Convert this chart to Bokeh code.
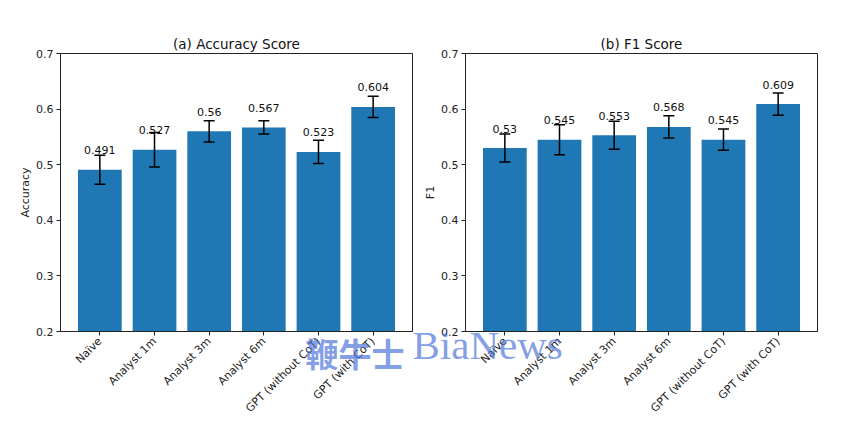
import math
from bokeh.plotting import figure
from bokeh.layouts import row
from bokeh.models import (ColumnDataSource, Range1d, FixedTicker, Whisker, TeeHead)
from bokeh.core.properties import value
from bokeh.embed import file_html
from bokeh.resources import INLINE

categories = ["Naïve", "Analyst 1m", "Analyst 3m", "Analyst 6m", "GPT (without CoT)", "GPT (with CoT)"]
accuracy = [0.491, 0.527, 0.560, 0.567, 0.523, 0.604]
accuracy_err = [0.026, 0.031, 0.019, 0.012, 0.021, 0.019]
f1 = [0.530, 0.545, 0.553, 0.568, 0.545, 0.609]
f1_err = [0.025, 0.027, 0.025, 0.020, 0.019, 0.020]
value_labels_acc = ["0.491", "0.527", "0.56", "0.567", "0.523", "0.604"]
value_labels_f1 = ["0.53", "0.545", "0.553", "0.568", "0.545", "0.609"]
y_ticks = [0.2, 0.3, 0.4, 0.5, 0.6, 0.7]
watermark_cjk = "鞭牛士"
watermark_latin = "BiaNews"

FONT = "DejaVu Sans"
BAR = "#1f77b4"


def panel(title, ylabel, values, errs, labels, width, border_left, border_right):
    x = list(range(len(categories)))
    src = ColumnDataSource(dict(
        x=x, top=values,
        upper=[v + e for v, e in zip(values, errs)],
        lower=[v - e for v, e in zip(values, errs)],
        ty=[v + 0.035 for v in values],
        txt=labels,
    ))
    p = figure(width=width, height=433, output_backend="svg", toolbar_location=None,
               x_range=Range1d(-0.72, 5.72), y_range=Range1d(0.2, 0.7),
               min_border_left=border_left, min_border_right=border_right,
               min_border_top=53, min_border_bottom=102)
    p.title.text = title
    p.title.align = "center"
    p.title.text_font = FONT
    p.title.text_font_size = "13.5px"
    p.title.text_font_style = "normal"
    p.title.text_color = "#111"
    p.title.standoff = 4
    p.grid.visible = False
    p.outline_line_color = "#222"
    p.outline_line_width = 1
    p.outline_line_alpha = 1

    p.vbar(x="x", top="top", bottom=0.2, width=0.8, source=src, color=BAR, line_color=None)
    w = Whisker(source=src, base="x", upper="upper", lower="lower", line_color="black", line_width=1.5,
                level="annotation",
                upper_head=TeeHead(size=11, line_color="black", line_width=1.5),
                lower_head=TeeHead(size=11, line_color="black", line_width=1.5))
    p.add_layout(w)
    p.text(x="x", y="ty", text="txt", source=src, text_align="center", text_baseline="alphabetic",
           text_font_size="11px", text_color="#111", text_font=value(FONT))

    for ax in (p.xaxis[0], p.yaxis[0]):
        ax.axis_line_color = "#222"
        ax.major_tick_line_color = "#222"
        ax.major_tick_in = 0
        ax.major_tick_out = 4
        ax.minor_tick_line_color = None
        ax.major_label_text_font = FONT
        ax.major_label_text_font_size = "11px"
        ax.major_label_text_color = "#222"
        ax.axis_label_text_font = FONT
        ax.axis_label_text_font_size = "11px"
        ax.axis_label_text_font_style = "normal"
        ax.axis_label_text_color = "#222"
    p.xaxis.ticker = FixedTicker(ticks=x)
    p.xaxis.major_label_overrides = {i: c for i, c in enumerate(categories)}
    p.xaxis.major_label_orientation = math.pi / 4
    p.xaxis.major_label_standoff = 4
    p.yaxis.ticker = FixedTicker(ticks=y_ticks)
    p.yaxis.major_label_overrides = {t: f"{t:.1f}" for t in y_ticks}
    p.yaxis.axis_label = ylabel
    p.yaxis.axis_label_standoff = 1
    p.yaxis.major_label_standoff = 3
    return p


p1 = panel("(a) Accuracy Score", "Accuracy", accuracy, accuracy_err, value_labels_acc, 415, 60, 3)
p2 = panel("(b) F1 Score", "F1", f1, f1_err, value_labels_f1, 452, 50, 50)

# watermark overlay: a transparent figure placed over the two panels
wm = figure(width=275, height=50, output_backend="svg", toolbar_location=None,
            x_range=Range1d(0, 275), y_range=Range1d(50, 0),
            x_axis_location=None, y_axis_location=None,
            min_border=0, min_border_left=0, min_border_right=0, min_border_top=0, min_border_bottom=0,
            background_fill_alpha=0, border_fill_alpha=0, outline_line_color=None,
            styles={"position": "absolute", "left": "300px", "top": "325px", "z-index": "10",
                    "pointer-events": "none"})
wm.grid.visible = False
wm_color = "#4d74dc"
wm.text(x=[5], y=[38], text=[watermark_cjk], text_font=value("Noto Sans CJK SC"),
        text_font_style="bold", text_font_size="33px", text_color=wm_color, text_alpha=0.7,
        text_baseline="alphabetic")
wm.text(x=[112], y=[34], text=[watermark_latin], text_font=value("Liberation Serif"),
        text_font_size="41px", text_color=wm_color, text_alpha=0.7, text_baseline="alphabetic")

layout = row(p1, p2, wm)
open("out.html", "w").write(file_html(layout, INLINE))
